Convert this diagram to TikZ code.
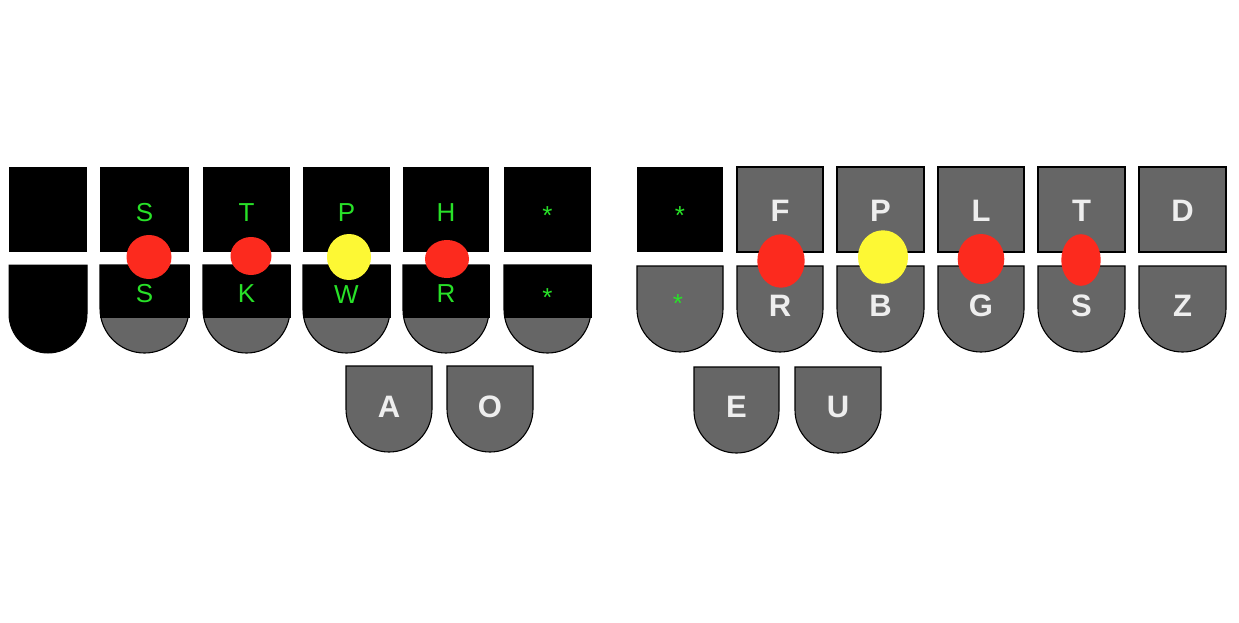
\documentclass[tikz,border=0pt]{standalone}
\usepackage{fontspec}
\setmainfont{Liberation Sans}
\definecolor{keygray}{HTML}{666666}
\definecolor{keygreen}{RGB}{40,225,40}
\definecolor{dotred}{RGB}{252,42,30}
\definecolor{dotyellow}{RGB}{253,248,52}
\definecolor{lettergray}{HTML}{EEEEEE}
\newcommand{\kbkey}[5]{%
  \pgfmathsetmacro{\kr}{(#3-#1)/2}%
  \pgfmathsetmacro{\kc}{#4-\kr}%
  \pgfmathsetmacro{\km}{(#1+#3)/2}%
  \pgfmathsetmacro{\kk}{0.5523*\kr}%
  \draw[#5] (#1,#2) -- (#3,#2) -- (#3,\kc) .. controls (#3,{\kc+\kk}) and ({\km+\kk},#4) .. (\km,#4) .. controls ({\km-\kk},#4) and (#1,{\kc+\kk}) .. (#1,\kc) -- cycle;%
}
\tikzset{
  graykey/.style={fill=keygray,draw=black,line width=1.1pt},
  blackkey/.style={fill=black,draw=black,line width=1pt},
  greenlbl/.style={text=keygreen,font=\fontsize{26}{26}\selectfont,inner sep=0pt,anchor=base},
  boldlbl/.style={text=lettergray,font=\fontsize{31}{31}\selectfont\bfseries,inner sep=0pt,anchor=base},
  reddot/.style={fill=dotred,draw=none},
  yellowdot/.style={fill=dotyellow,draw=none}
}
\begin{document}
\begin{tikzpicture}[x=1pt,y=-1pt]
\useasboundingbox (0,0) rectangle (1239,623);
% ---------- left half ----------
% leftmost key
\fill[black] (9,167) rectangle (87,252);
\kbkey{9}{265}{87}{353}{blackkey}
% top row black keys
\foreach \xa/\xb in {100/189,203/290,303/390,403/489,504/591}{
  \fill[black] (\xa,167) rectangle (\xb,252);
}
% bottom row: gray rounded keys with black overlay
\foreach \xa/\xb in {100/189,203/290,303/390,403/489,504/591}{
  \kbkey{\xa}{265}{\xb}{353}{graykey}
  \fill[black] (\xa-0.5,264.5) rectangle (\xb+0.5,318);
}
% labels left
\node[greenlbl] (lS1) at (144.5,221) {S};
\node[greenlbl] (lT) at (246.5,221) {T};
\node[greenlbl] (lP) at (346.5,221) {P};
\node[greenlbl] (lH) at (446,221) {H};
\node[greenlbl] (lst1) at (547.5,224) {*};
\node[greenlbl] (lS2) at (144.5,302) {S};
\node[greenlbl] (lK) at (246.5,302) {K};
\node[greenlbl] (lW) at (346.5,303) {W};
\node[greenlbl] (lR) at (446,302) {R};
\node[greenlbl] (lst2) at (547.5,306) {*};
% vowels left
\kbkey{346}{366}{432}{452}{graykey}
\kbkey{447}{366}{533}{452}{graykey}
\node[boldlbl] (vA) at (389,417) {A};
\node[boldlbl] (vO) at (490,417) {O};
% dots left
\fill[reddot] (149,257) ellipse [x radius=22.5, y radius=22];
\fill[reddot] (251,256) ellipse [x radius=20.5, y radius=19];
\fill[yellowdot] (349,257) ellipse [x radius=22, y radius=23];
\fill[reddot] (447,259) ellipse [x radius=22, y radius=19];
% ---------- right half ----------
\fill[black] (637,167) rectangle (723,252);
\kbkey{637}{266}{723}{352}{graykey}
\node[greenlbl] (rst1) at (680,224) {*};
\node[greenlbl] (rst2) at (678,312) {*};
\foreach \xa/\xb in {737/823,837/924,938/1024,1038/1125,1139/1226}{
  \draw[graykey] (\xa,167) rectangle (\xb,252);
  \kbkey{\xa}{266}{\xb}{352}{graykey}
}
\node[boldlbl] (rF) at (780,221) {F};
\node[boldlbl] (rP) at (880.5,221) {P};
\node[boldlbl] (rL) at (981,221) {L};
\node[boldlbl] (rT) at (1081.5,221) {T};
\node[boldlbl] (rD) at (1182.5,221) {D};
\node[boldlbl] (rR) at (780,316) {R};
\node[boldlbl] (rB) at (880.5,316) {B};
\node[boldlbl] (rG) at (981,316) {G};
\node[boldlbl] (rS) at (1081.5,316) {S};
\node[boldlbl] (rZ) at (1182.5,316) {Z};
% vowels right
\kbkey{694}{367}{779}{453}{graykey}
\kbkey{795}{367}{881}{453}{graykey}
\node[boldlbl] (vE) at (736.5,417) {E};
\node[boldlbl] (vU) at (838,417) {U};
% dots right
\fill[reddot] (781,261) ellipse [x radius=23.7, y radius=26.7];
\fill[yellowdot] (883,257) ellipse [x radius=25, y radius=26.7];
\fill[reddot] (981,259) ellipse [x radius=23.3, y radius=25];
\fill[reddot] (1081,260) ellipse [x radius=19.7, y radius=25.8];
\end{tikzpicture}
\end{document}
